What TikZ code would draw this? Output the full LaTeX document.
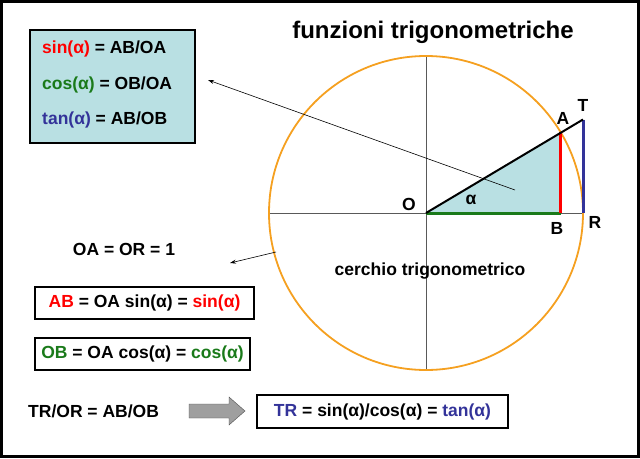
\documentclass[tikz,border=0pt]{standalone}
\usepackage{fontspec}
\setmainfont{Liberation Sans}
\usetikzlibrary{arrows.meta}
\definecolor{lb}{HTML}{B9E0E3}
\definecolor{rr}{HTML}{FF0000}
\definecolor{gg}{HTML}{1A7A1A}
\definecolor{bb}{HTML}{333399}
\definecolor{oo}{HTML}{F5A020}
\begin{document}
\begin{tikzpicture}[x=1pt,y=-1pt,
 t/.style={font=\bfseries\fontsize{17.5}{20}\selectfont,inner sep=0pt},
 box/.style={draw,line width=2pt,inner sep=6pt,font=\bfseries\fontsize{17.5}{20}\selectfont},
 arr/.style={-{Stealth[length=6pt,width=4pt]},line width=0.6pt}]
\useasboundingbox (0,0) rectangle (640,458);
\draw[line width=3pt] (1.5,1.5) rectangle (638.5,456.5);
\coordinate (O) at (426,213);
\coordinate (A) at (560.7,132.4);
\coordinate (B) at (560.7,213);
\coordinate (R) at (583,213);
\coordinate (T) at (583,119.5);
\fill[lb] (O) -- (A) -- (B) -- cycle;
\draw[gray!70!black,line width=0.6pt] (269,213) -- (583,213) (426,56) -- (426,370);
\draw[oo,line width=1.8pt] (O) circle (157);
\draw[gg,line width=3pt] (O) -- (B);
\draw[rr,line width=3pt] (A) -- (B);
\draw[bb,line width=3pt] (T) -- (R);
\draw[line width=2pt] (O) -- (T);
\node[t,font=\bfseries\fontsize{24}{27}\selectfont] (title) at (433,32) {funzioni trigonometriche};
\node[t] (lO) at (409,204) {O};
\node[t] (la) at (471,200) {α};
\node[t] (lA) at (563,118) {A};
\node[t] (lT) at (583,105) {T};
\node[t] (lB) at (557,228) {B};
\node[t] (lR) at (595,222) {R};
\node[t] (ct) at (430,271) {cerchio trigonometrico};
\node[box,fill=lb,minimum width=165pt,minimum height=113pt] (b1) at (112.5,86.5) {};
\node[t,anchor=west] (s1) at (42,49) {\textcolor{rr}{sin(α)} = AB/OA};
\node[t,anchor=west] (s2) at (42,85) {\textcolor{gg}{cos(α)} = OB/OA};
\node[t,anchor=west] (s3) at (42,120) {\textcolor{bb}{tan(α)} = AB/OB};
\coordinate (p1) at (515,190);
\draw[arr] (p1) -- (208,80);
\node[t] (oa) at (124,249) {OA = OR = 1};
\coordinate (c1) at (276,252);
\draw[arr] (c1) -- (230,263);
\node[box,minimum height=32pt,minimum width=219pt] (b2) at (144.5,302.5) {\textcolor{rr}{AB} = OA sin(α) = \textcolor{rr}{sin(α)}};
\node[box,minimum height=32pt,minimum width=215pt] (b3) at (142.5,354) {\textcolor{gg}{OB} = OA cos(α) = \textcolor{gg}{cos(α)}};
\node[t,anchor=west] (tr) at (28,411) {TR/OR = AB/OB};
\node[box,minimum height=33pt,minimum width=251pt] (b4) at (382.5,411.5) {\textcolor{bb}{TR} = sin(α)/cos(α) = \textcolor{bb}{tan(α)}};
\fill[gray!75,draw=gray!60!black] (189,404) -- (229,404) -- (229,397) -- (245,411) -- (229,425) -- (229,418) -- (189,418) -- cycle;
\end{tikzpicture}
\end{document}
